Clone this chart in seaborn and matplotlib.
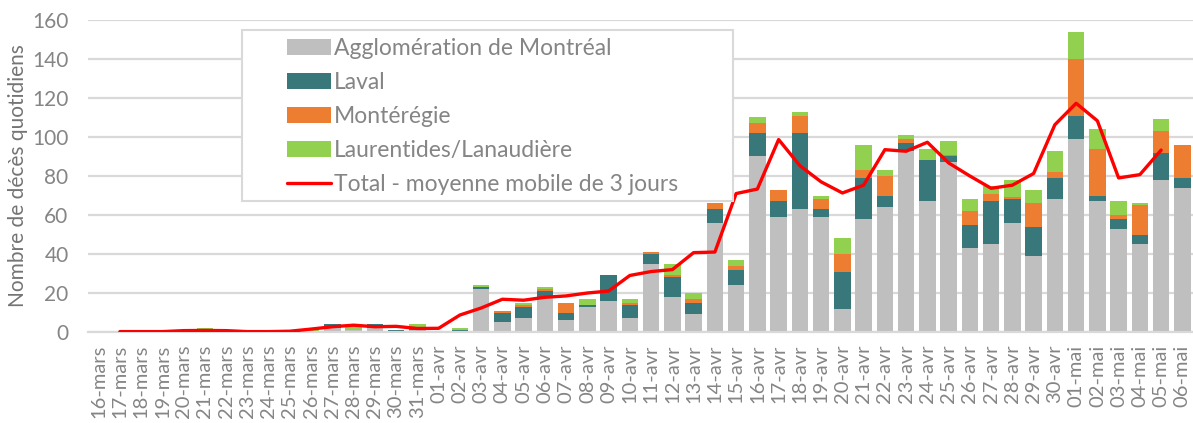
import matplotlib
matplotlib.use("Agg")
import matplotlib.pyplot as plt
from matplotlib.patches import Patch, Rectangle
from matplotlib.lines import Line2D
import numpy as np
import pandas as pd
import seaborn as sns

# Dates (categories)
dates = ([f"{d:02d}-mars" for d in range(16, 32)]
         + [f"{d:02d}-avr" for d in range(1, 31)]
         + [f"{d:02d}-mai" for d in range(1, 7)])

# Daily deaths by region
montreal = [0, 0, 0, 0, 0, 0, 0, 0, 0, 0, 0, 2, 1, 2, 0, 1,
            0, 0, 22, 5, 7, 18, 6, 13, 16, 7, 35, 18, 9, 56, 24, 90, 59, 63, 59, 12,
            58, 64, 93, 67, 87, 43, 45, 56, 39, 68,
            99, 67, 53, 45, 78, 74]
laval = [0, 0, 0, 0, 0, 0, 0, 0, 0, 0, 0, 2, 0, 2, 1, 1,
         0, 1, 1, 5, 6, 3, 4, 1, 13, 7, 5, 10, 6, 7, 8, 12, 8, 39, 4, 19,
         21, 6, 4, 21, 3, 12, 22, 12, 15, 11,
         12, 3, 5, 5, 14, 5]
monteregie = [0, 0, 0, 0, 0, 0, 0, 0, 0, 0, 0, 0, 0, 0, 0, 0,
              0, 0, 0, 1, 1, 1, 5, 0, 0, 1, 1, 1, 2, 3, 2, 5, 6, 9, 5, 9,
              4, 10, 2, 0, 1, 7, 4, 1, 12, 3,
              29, 24, 2, 15, 11, 17]
laurentides = [0, 0, 0, 0, 0, 2, 0, 0, 0, 0, 1, 0, 2, 0, 0, 2,
               0, 1, 1, 0, 1, 1, 0, 3, 0, 2, 0, 6, 3, 0, 3, 3, 0, 2, 2, 8,
               13, 3, 2, 6, 7, 6, 4, 9, 7, 11,
               14, 10, 7, 1, 6, 0]

# Total - 3-day moving average (17-mars .. 05-mai)
ma_dates = dates[1:51]
moving_avg = [0.2, 0.2, 0.2, 0.7, 0.8, 0.7, 0.2, 0.2, 0.4, 1.5, 2.7, 3.5, 2.7, 2.9, 1.8,
              1.9, 8.7, 12.3, 16.8, 16.3, 17.8, 18.5, 20.0, 21.0, 29.0, 31.0, 32.0,
              40.7, 41.0, 71.0, 73.3, 98.7, 85.3, 77.0, 71.3, 75.3, 93.5, 92.7, 97.3,
              86.7, 80.0, 73.7, 75.3, 81.3, 106.3,
              117.3, 108.3, 79.0, 80.7, 93.3]

colors = ["#bfbfbf", "#38777a", "#ed7d31", "#92d050"]
labels = ["Agglomération de Montréal", "Laval", "Montérégie", "Laurentides/Lanaudière"]
red = "#ff0000"
grid_c = "#d9d9d9"
text_c = "#858585"

df = pd.DataFrame({"date": dates, "montreal": montreal, "laval": laval,
                   "monteregie": monteregie, "laurentides": laurentides})
layers = np.cumsum(df[["montreal", "laval", "monteregie", "laurentides"]].to_numpy(), axis=1)

sns.set_style("white")
plt.rcParams["font.family"] = ["Lato", "DejaVu Sans"]

fig = plt.figure(figsize=(11.93, 4.23), dpi=100)
ax = fig.add_axes([88 / 1193, 1 - 332 / 423, 1 - 88 / 1193, 312 / 423])

# stacked bars: draw cumulative totals from tallest to shortest
for i in range(3, -1, -1):
    sns.barplot(x=df["date"], y=layers[:, i], order=dates, color=colors[i],
                width=0.77, saturation=1, edgecolor="none", linewidth=0, ax=ax, zorder=2)

pos = [dates.index(d) for d in ma_dates]
sns.lineplot(x=pos, y=moving_avg, color=red, linewidth=2.4, ax=ax, zorder=5)

ax.set_ylim(0, 160)
ax.set_xlim(-0.5, -0.5 + 1105 / 21.42)
ax.set_yticks(range(0, 161, 20))
ax.yaxis.grid(True, color=grid_c, linewidth=1.6, zorder=0)
ax.set_axisbelow(True)
for s in ["top", "right", "left"]:
    ax.spines[s].set_visible(False)
ax.spines["bottom"].set_color(grid_c)
ax.spines["bottom"].set_linewidth(1.6)

ax.set_xticks(range(len(dates)))
ax.set_xticklabels(dates, rotation=90, ha="center", va="top")
ax.set_xticks(np.arange(-0.5, len(dates), 1), minor=True)
ax.tick_params(axis="x", which="major", length=0, pad=9, labelsize=14.5, labelcolor=text_c)
ax.tick_params(axis="x", which="minor", length=6, width=1.3, color=grid_c, direction="out")
ax.tick_params(axis="y", length=0, pad=14, labelsize=15, labelcolor=text_c)
ax.set_xlabel("")
ax.set_ylabel("Nombre de décès quotidiens", fontsize=15, color="#747474", labelpad=3)

# legend box
ax.add_patch(Rectangle((0.1394, 0.420), 0.5837 - 0.1394, 0.968 - 0.420,
                       transform=ax.transAxes, facecolor="white", edgecolor=grid_c,
                       linewidth=1.5, zorder=6))
handles = [Patch(facecolor=c, edgecolor="none") for c in colors]
handles.append(Line2D([0], [0], color=red, linewidth=2.4))
leg = ax.legend(handles, labels + ["Total - moyenne mobile de 3 jours"],
                loc="upper left", bbox_to_anchor=((287 - 88) / 1105, (332 - 38) / 312),
                frameon=False, fontsize=16.5, labelcolor=text_c, handlelength=1.9,
                handletextpad=0.15, labelspacing=0.57, borderpad=0, borderaxespad=0)
leg.set_zorder(7)

fig.savefig("out.png", dpi=100)
